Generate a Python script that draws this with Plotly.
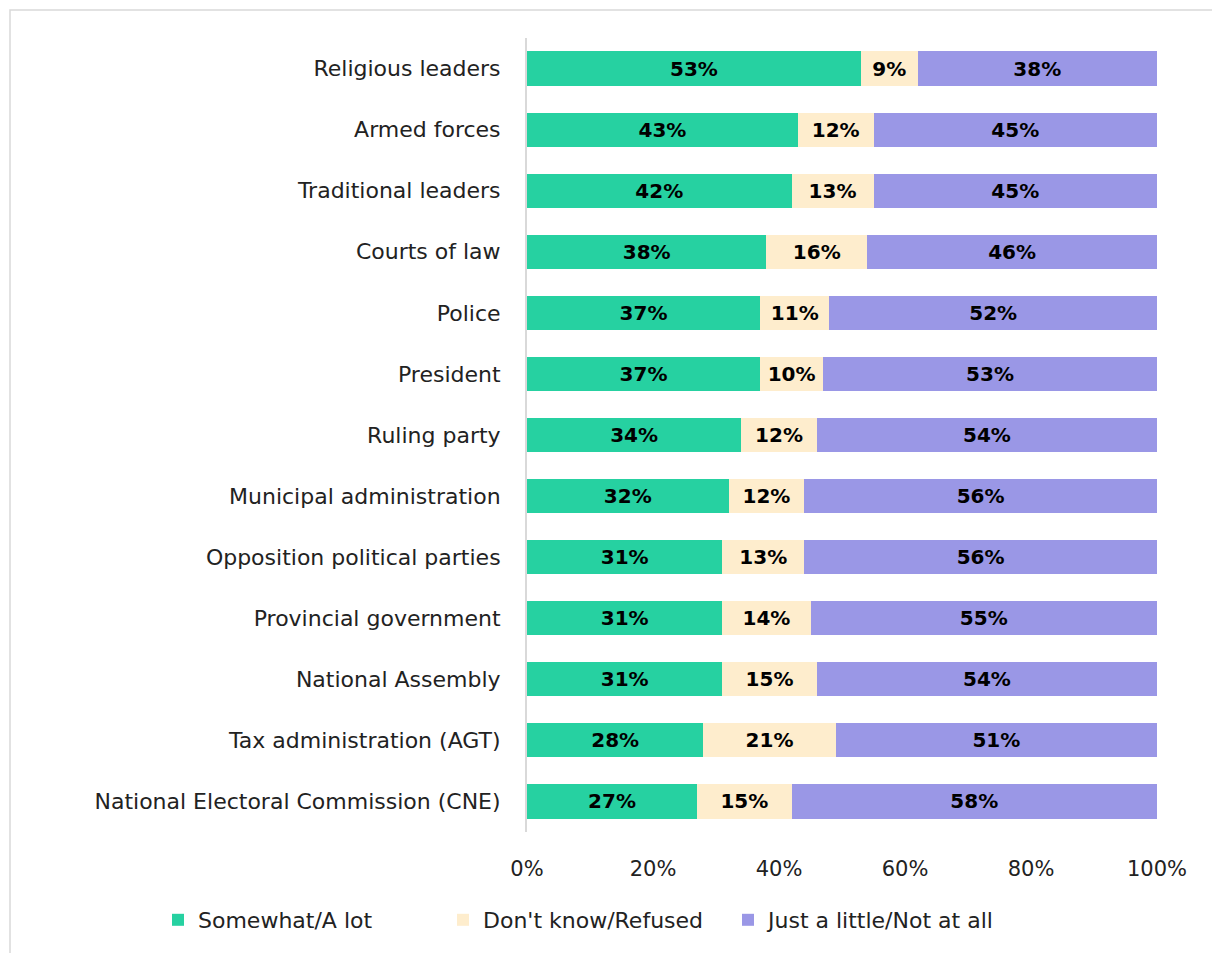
import plotly.graph_objects as go

categories = ["Religious leaders", "Armed forces", "Traditional leaders", "Courts of law",
              "Police", "President", "Ruling party", "Municipal administration",
              "Opposition political parties", "Provincial government", "National Assembly",
              "Tax administration (AGT)", "National Electoral Commission (CNE)"]
somewhat = [53, 43, 42, 38, 37, 37, 34, 32, 31, 31, 31, 28, 27]
dont_know = [9, 12, 13, 16, 11, 10, 12, 12, 13, 14, 15, 21, 15]
little = [38, 45, 45, 46, 52, 53, 54, 56, 56, 55, 54, 51, 58]
series_names = ["Somewhat/A lot", "Don't know/Refused", "Just a little/Not at all"]
colors = ["#26D1A1", "#FEEDCD", "#9A97E6"]

FONT = "DejaVu Sans"
fig = go.Figure()
for name, vals, col in zip(series_names, [somewhat, dont_know, little], colors):
    fig.add_trace(go.Bar(
        y=categories, x=vals, name=name, orientation="h",
        marker=dict(color=col, line=dict(width=0)),
        text=[f"{v}%" for v in vals], textposition="inside",
        insidetextanchor="middle", textangle=0, constraintext="none",
        textfont=dict(family=FONT, size=20, color="black", weight="bold"),
    ))

W, H = 1212, 953
L, R, T, B = 527, 55, 38, 121
pw, ph = W - L - R, H - T - B
fig.update_layout(
    width=W, height=H, barmode="stack", bargap=0.44,
    margin=dict(l=L, r=R, t=T, b=B, autoexpand=False),
    paper_bgcolor="white", plot_bgcolor="white",
    font=dict(family=FONT, size=21, color="#222"),
    xaxis=dict(range=[0, 100], tickvals=[0, 20, 40, 60, 80, 100],
               ticktext=["0%", "20%", "40%", "60%", "80%", "100%"],
               showgrid=False, zeroline=False, showline=False, ticks="",
               ticklabelstandoff=22, tickfont=dict(size=21, color="#222")),
    yaxis=dict(categoryorder="array", categoryarray=categories[::-1],
               showgrid=False, zeroline=False, showline=True, linecolor="#D9D9D9",
               linewidth=2, ticks="", ticklabelstandoff=20,
               tickfont=dict(size=22, color="#222")),
    legend=dict(orientation="h", x=(158 - L) / pw, xanchor="left",
                y=(H - B - 920) / ph, yanchor="middle",
                font=dict(size=22, color="#222"), traceorder="normal",
                entrywidth=240, entrywidthmode="pixels"),
    shapes=[dict(type="rect", xref="paper", yref="paper",
                 x0=(10 - L) / pw, x1=2, y0=-1, y1=(H - B - 10) / ph,
                 line=dict(color="#D9D9D9", width=1.5), fillcolor="rgba(0,0,0,0)",
                 layer="below")],
)
fig.write_html("out.html")
